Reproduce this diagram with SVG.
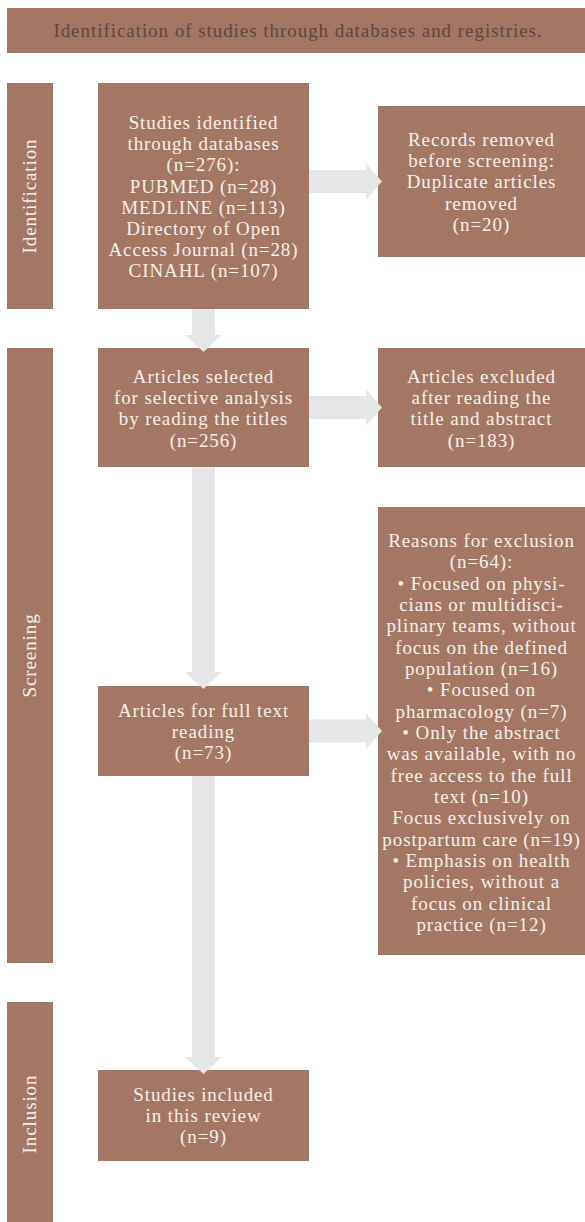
<svg xmlns="http://www.w3.org/2000/svg" width="585" height="1222" viewBox="0 0 585 1222">
<style>
.box{fill:#a47764}
.t{font-family:"Liberation Serif","Times New Roman",serif;font-size:19px;letter-spacing:0.9px;fill:#f6f0eb;text-anchor:middle}
.h{font-family:"Liberation Serif","Times New Roman",serif;font-size:19px;letter-spacing:0.95px;fill:#5c4843;text-anchor:middle}
.arr{fill:#e6e6e6}
</style>
<rect width="585" height="1222" fill="#ffffff"/>
<g id="header"><rect class="box" x="7" y="8" width="578" height="45"/><text class="h" x="298" y="37">Identification of studies through databases and registries.</text></g>
<g id="stage-identification"><rect class="box" x="7" y="83" width="46" height="226"/><text class="t" transform="translate(36,196) rotate(-90)">Identification</text></g>
<g id="stage-screening"><rect class="box" x="7" y="348" width="46" height="615"/><text class="t" transform="translate(36,655.5) rotate(-90)">Screening</text></g>
<g id="stage-inclusion"><rect class="box" x="7" y="1002" width="46" height="220"/><text class="t" transform="translate(36,1114) rotate(-90)">Inclusion</text></g>
<g id="identified"><rect class="box" x="98" y="83" width="211" height="226"/>
<text class="t" x="203.5" y="129">Studies identified</text>
<text class="t" x="203.5" y="150.2">through databases</text>
<text class="t" x="203.5" y="171.4">(n=276):</text>
<text class="t" x="203.5" y="192.6">PUBMED (n=28)</text>
<text class="t" x="203.5" y="213.8">MEDLINE (n=113)</text>
<text class="t" x="203.5" y="235">Directory of Open</text>
<text class="t" x="203.5" y="256.2">Access Journal (n=28)</text>
<text class="t" x="203.5" y="277.4">CINAHL (n=107)</text>
</g>
<g id="removed"><rect class="box" x="378" y="106" width="207" height="151"/>
<text class="t" x="481.5" y="146">Records removed</text>
<text class="t" x="481.5" y="167.2">before screening:</text>
<text class="t" x="481.5" y="188.4">Duplicate articles</text>
<text class="t" x="481.5" y="209.6">removed</text>
<text class="t" x="481.5" y="230.8">(n=20)</text>
</g>
<g id="selected"><rect class="box" x="98" y="348" width="211" height="119"/>
<text class="t" x="203.5" y="383">Articles selected</text>
<text class="t" x="203.5" y="404.2">for selective analysis</text>
<text class="t" x="203.5" y="425.4">by reading the titles</text>
<text class="t" x="203.5" y="446.6">(n=256)</text>
</g>
<g id="excluded"><rect class="box" x="378" y="348" width="207" height="119"/>
<text class="t" x="481.5" y="383">Articles excluded</text>
<text class="t" x="481.5" y="404.2">after reading the</text>
<text class="t" x="481.5" y="425.4">title and abstract</text>
<text class="t" x="481.5" y="446.6">(n=183)</text>
</g>
<g id="reasons"><rect class="box" x="378" y="507" width="207" height="448"/>
<text class="t" x="481.5" y="547">Reasons for exclusion</text>
<text class="t" x="481.5" y="568.3">(n=64):</text>
<text class="t" x="481.5" y="589.7">• Focused on physi-</text>
<text class="t" x="481.5" y="611">cians or multidisci-</text>
<text class="t" x="481.5" y="632.3">plinary teams, without</text>
<text class="t" x="481.5" y="653.7">focus on the defined</text>
<text class="t" x="481.5" y="675">population (n=16)</text>
<text class="t" x="481.5" y="696.3">• Focused on</text>
<text class="t" x="481.5" y="717.7">pharmacology (n=7)</text>
<text class="t" x="481.5" y="739">• Only the abstract</text>
<text class="t" x="481.5" y="760.3">was available, with no</text>
<text class="t" x="481.5" y="781.7">free access to the full</text>
<text class="t" x="481.5" y="803">text (n=10)</text>
<text class="t" x="481.5" y="824.3">Focus exclusively on</text>
<text class="t" x="481.5" y="845.7">postpartum care (n=19)</text>
<text class="t" x="481.5" y="867">• Emphasis on health</text>
<text class="t" x="481.5" y="888.3">policies, without a</text>
<text class="t" x="481.5" y="909.7">focus on clinical</text>
<text class="t" x="481.5" y="931">practice (n=12)</text>
</g>
<g id="fulltext"><rect class="box" x="98" y="686" width="211" height="90"/>
<text class="t" x="203.5" y="717">Articles for full text</text>
<text class="t" x="203.5" y="738.2">reading</text>
<text class="t" x="203.5" y="759.4">(n=73)</text>
</g>
<g id="included"><rect class="box" x="98" y="1070" width="211" height="91"/>
<text class="t" x="203.5" y="1101">Studies included</text>
<text class="t" x="203.5" y="1122.2">in this review</text>
<text class="t" x="203.5" y="1143.4">(n=9)</text>
</g>
<g id="connectors">
<path class="arr" d="M309,170 H366 V163.5 L382,181.5 L366,199.5 V193 H309 Z"/>
<path class="arr" d="M309,396 H366 V389.5 L382,407.5 L366,425.5 V419 H309 Z"/>
<path class="arr" d="M309,719.5 H366 V713 L382,731 L366,749 V742.5 H309 Z"/>
<path class="arr" d="M192,309 V335 H185 L203.5,352 L222,335 H215 V309 Z"/>
<path class="arr" d="M192,467 V672 H185 L203.5,689 L222,672 H215 V467 Z"/>
<path class="arr" d="M192,776 V1057 H185 L203.5,1074 L222,1057 H215 V776 Z"/>
</g>
</svg>
